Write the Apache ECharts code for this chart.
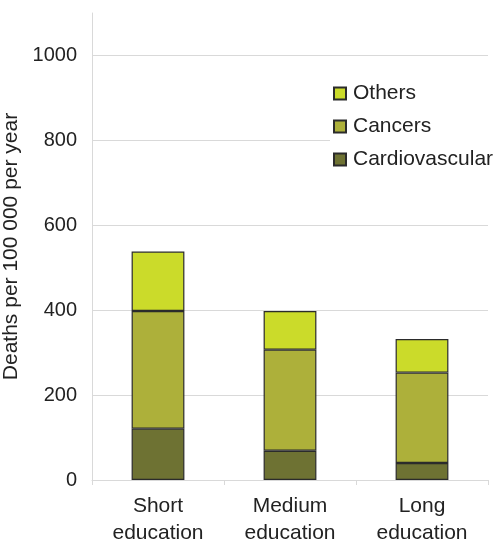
<!DOCTYPE html>
<html>
<head>
<meta charset="utf-8">
<script src="https://cdn.jsdelivr.net/npm/echarts@6/dist/echarts.min.js"></script>
<style>html,body{margin:0;padding:0;background:#fff}#c{width:500px;height:546px}</style>
</head>
<body>
<div id="c"></div>
<script>
var categories = ['Short\neducation', 'Medium\neducation', 'Long\neducation'];
var cardiovascular = [121, 69, 40];
var cancers = [277, 238, 213];
var others = [140, 91, 79];
var yTicks = { min: 0, max: 1100, interval: 200 };

var chart = echarts.init(document.getElementById('c'), null, { renderer: 'canvas' });
var border = { borderColor: '#2b2b2b', borderWidth: 1.2 };
chart.setOption({
  animation: false,
  backgroundColor: '#fff',
  textStyle: { fontFamily: 'Liberation Sans, Arial, sans-serif' },
  grid: { left: 92, right: 12, top: 13, bottom: 66, containLabel: false, outerBoundsMode: 'none' },
  legend: {
    orient: 'vertical',
    left: 330,
    top: 79,
    backgroundColor: '#fff',
    padding: [4, 0, 4, 3],
    icon: 'rect',
    itemWidth: 12,
    itemHeight: 12,
    itemGap: 12,
    data: ['Others', 'Cancers', 'Cardiovascular'],
    textStyle: { fontSize: 21, lineHeight: 20, color: '#222', padding: [0, 0, 0, 2] }
  },
  xAxis: {
    type: 'category',
    data: categories,
    axisLine: { lineStyle: { color: '#d9d9d9', width: 1 } },
    axisTick: { show: true, alignWithLabel: false, length: 5, lineStyle: { color: '#d9d9d9' } },
    axisLabel: { fontSize: 21, lineHeight: 27, color: '#222', margin: 13 }
  },
  yAxis: {
    type: 'value',
    min: yTicks.min,
    max: yTicks.max,
    interval: yTicks.interval,
    name: 'Deaths per 100 000 per year',
    nameLocation: 'middle',
    nameGap: 70,
    nameTextStyle: { fontSize: 21, color: '#222' },
    axisLine: { show: true, lineStyle: { color: '#d9d9d9', width: 1 } },
    axisTick: { show: false },
    axisLabel: { fontSize: 20, color: '#222', margin: 15, showMaxLabel: false,
      formatter: function (v) { return String(v); } },
    splitLine: { show: true, showMaxLine: false, lineStyle: { color: '#d9d9d9', width: 1 } }
  },
  series: [
    { name: 'Cardiovascular', type: 'bar', stack: 'a', barWidth: '40%', data: cardiovascular,
      itemStyle: Object.assign({ color: '#6e7233' }, border) },
    { name: 'Cancers', type: 'bar', stack: 'a', data: cancers,
      itemStyle: Object.assign({ color: '#adb03a' }, border) },
    { name: 'Others', type: 'bar', stack: 'a', data: others,
      itemStyle: Object.assign({ color: '#cbdb2a' }, border) }
  ]
});
</script>
</body>
</html>
